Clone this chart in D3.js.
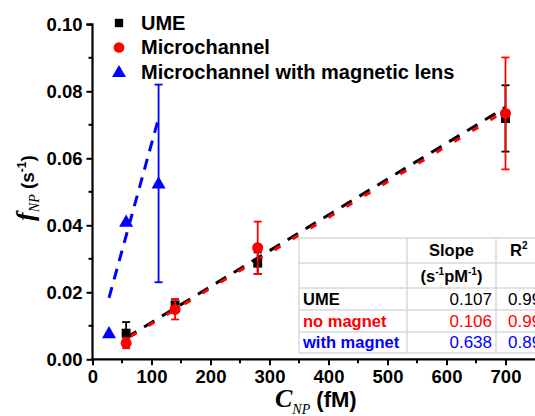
<!DOCTYPE html>
<html><head><meta charset="utf-8">
<script src="https://cdn.jsdelivr.net/npm/d3@7"></script>
<style>body{margin:0;overflow:hidden;background:#fff}svg{display:block}</style>
</head><body>
<svg id="c" width="535" height="416"></svg>
<script>
// ---- data ----
const umeX = [57, 140, 280, 700];
const umeY = [0.0078, 0.0162, 0.0287, 0.0719];
const umeErr = [0.0033, 0.0017, 0.0032, 0.0099];
const micX = [57, 140, 280, 700];
const micY = [0.0048, 0.0149, 0.0333, 0.0734];
const micErr = [0.0015, 0.0030, 0.0078, 0.0167];
const magX = [28, 57, 112];
const magY = [0.0078, 0.0411, 0.0525];
const magErr = [0, 0, 0.0295];
const fitSlopes = [0.107, 0.106, 0.638];      // s^-1 pM^-1
const fitIntercepts = [0.0003, 0.0000, 0.0005];
const fitRanges = [[57, 700], [57, 700], [28, 112]];
const legendLabels = ["UME", "Microchannel", "Microchannel with magnetic lens"];
const xTicks = [0, 100, 200, 300, 400, 500, 600, 700];
const yTicks = [0.00, 0.02, 0.04, 0.06, 0.08, 0.10];
const tableRows = ["UME", "no magnet", "with magnet"];
const tableSlope = ["0.107", "0.106", "0.638"];
const tableR2 = ["0.998", "0.995", "0.893"];
const colors = ["#000000", "#ff0000", "#0000ff"];

const svg = d3.select("#c");
const x = d3.scaleLinear().domain([0, 750]).range([92.5, 535]);
const y = d3.scaleLinear().domain([0, 0.10]).range([359.3, 24.3]);
const sans = "'Liberation Sans', Arial, sans-serif";
const serif = "'Liberation Serif', 'Times New Roman', serif";

// ---- axes ----
const yAxis = d3.axisLeft(y).tickValues(yTicks).tickFormat(d3.format(".2f")).tickSize(6).tickPadding(4);
const gy = svg.append("g").attr("transform", `translate(${x(0)},0)`).call(yAxis);
const xAxis = d3.axisBottom(x).tickValues(xTicks).tickFormat(d3.format("d")).tickSize(6).tickPadding(5);
const gx = svg.append("g").attr("transform", `translate(0,${y(0)})`).call(xAxis);
[gx, gy].forEach(g => {
  g.select(".domain").attr("stroke", "#000").attr("stroke-width", 2.2);
  g.selectAll(".tick line").attr("stroke", "#000").attr("stroke-width", 2);
  g.selectAll(".tick text").attr("fill", "#000").style("font-family", sans)
    .style("font-weight", "bold").style("font-size", "18.5px");
});
gy.select(".domain").attr("d", `M-0,${y(0)}V${y(0.1)}H-6`).attr("fill", "none");
gx.select(".domain").attr("d", `M${x(0)},0H${x(750)}`).attr("fill", "none");
// minor ticks
const yMinor = d3.range(0.01, 0.1, 0.02);
svg.append("g").selectAll("line").data(yMinor).join("line")
  .attr("x1", x(0) - 4).attr("x2", x(0)).attr("y1", d => y(d)).attr("y2", d => y(d))
  .attr("stroke", "#000").attr("stroke-width", 2);
const xMinor = d3.range(50, 750, 100);
svg.append("g").selectAll("line").data(xMinor).join("line")
  .attr("x1", d => x(d)).attr("x2", d => x(d)).attr("y1", y(0)).attr("y2", y(0) + 4)
  .attr("stroke", "#000").attr("stroke-width", 2);

// ---- axis titles ----
const yt = svg.append("text").attr("transform", "translate(34,188) rotate(-90)").attr("text-anchor", "middle");
yt.append("tspan").text("f").style("font-family", serif).style("font-style", "italic").style("font-weight", "bold").style("font-size", "26px");
yt.append("tspan").text("NP").attr("dy", 5).style("font-family", serif).style("font-style", "italic").style("font-size", "14px");
yt.append("tspan").text(" (s").attr("dy", -5).style("font-family", sans).style("font-weight", "bold").style("font-size", "19px");
yt.append("tspan").text("-1").attr("dy", -8).style("font-family", sans).style("font-weight", "bold").style("font-size", "12px");
yt.append("tspan").text(")").attr("dy", 8).style("font-family", sans).style("font-weight", "bold").style("font-size", "19px");

const xt = svg.append("text").attr("x", 275).attr("y", 407);
xt.append("tspan").text("C").style("font-family", serif).style("font-style", "italic").style("font-weight", "bold").style("font-size", "26px");
xt.append("tspan").text("NP").attr("dy", 7).style("font-family", serif).style("font-style", "italic").style("font-size", "14px");
xt.append("tspan").text(" (fM)").attr("dy", -7).style("font-family", sans).style("font-weight", "bold").style("font-size", "22px");

// ---- fit lines ----
const lineGen = d3.line().x(d => x(d[0])).y(d => y(d[1]));
const fitPts = i => fitRanges[i].map(v => [v, fitSlopes[i] * 1e-3 * v + fitIntercepts[i]]);
svg.append("path").attr("d", lineGen(fitPts(0))).attr("stroke", colors[0]).attr("stroke-width", 3)
  .attr("fill", "none").attr("stroke-dasharray", "12,9");
svg.append("path").attr("d", lineGen(fitPts(1))).attr("stroke", colors[1]).attr("stroke-width", 3)
  .attr("fill", "none").attr("stroke-dasharray", "7,14").attr("stroke-dashoffset", -5);
svg.append("path").attr("d", lineGen(fitPts(2))).attr("stroke", colors[2]).attr("stroke-width", 3)
  .attr("fill", "none").attr("stroke-dasharray", "11,8");

// ---- series ----
function series(xs, ys, errs, color, shape) {
  const g = svg.append("g");
  const data = xs.map((v, i) => ({ x: v, y: ys[i], e: errs[i] }));
  const eb = g.selectAll("g.eb").data(data.filter(d => d.e > 0)).join("g");
  eb.append("line").attr("x1", d => x(d.x)).attr("x2", d => x(d.x)).attr("y1", d => y(d.y - d.e)).attr("y2", d => y(d.y + d.e))
    .attr("stroke", color).attr("stroke-width", 1.8);
  [-1, 1].forEach(s => eb.append("line").attr("x1", d => x(d.x) - 4).attr("x2", d => x(d.x) + 4)
    .attr("y1", d => y(d.y + s * d.e)).attr("y2", d => y(d.y + s * d.e)).attr("stroke", color).attr("stroke-width", 1.8));
  g.selectAll("path.m").data(data).join("path")
    .attr("d", d3.symbol().type(shape).size(shape === d3.symbolTriangle ? 85 : shape === d3.symbolCircle ? 95 : 80)())
    .attr("transform", d => `translate(${x(d.x)},${y(d.y) + (shape === d3.symbolTriangle ? 1 : 0)})`)
    .attr("fill", color);
}
series(umeX, umeY, umeErr, colors[0], d3.symbolSquare);
series(micX, micY, micErr, colors[1], d3.symbolCircle);
series(magX, magY, magErr, colors[2], d3.symbolTriangle);

// ---- legend ----
const shapes = [d3.symbolSquare, d3.symbolCircle, d3.symbolTriangle];
const sizes = [70, 90, 85];
legendLabels.forEach((lab, i) => {
  const cy = 23 + i * 24.5;
  svg.append("path").attr("d", d3.symbol().type(shapes[i]).size(sizes[i])())
    .attr("transform", `translate(119,${cy + (i === 2 ? 1 : 0)})`).attr("fill", colors[i]);
  svg.append("text").attr("x", 141).attr("y", cy + 6.5).text(lab)
    .style("font-family", sans).style("font-weight", "bold").style("font-size", "20px").attr("fill", "#000");
});

// ---- table ----
const colX = [299, 407, 496, 600];
const rowY = [238, 263, 288, 310, 332, 353];
const tg = svg.append("g");
tg.append("rect").attr("x", colX[0]).attr("y", rowY[0]).attr("width", colX[3] - colX[0]).attr("height", rowY[5] - rowY[0]).attr("fill", "#fff");
rowY.forEach(v => tg.append("line").attr("x1", colX[0]).attr("x2", colX[3]).attr("y1", v).attr("y2", v).attr("stroke", "#d9d9d9").attr("stroke-width", 1.5));
colX.forEach(v => tg.append("line").attr("x1", v).attr("x2", v).attr("y1", rowY[0]).attr("y2", rowY[5]).attr("stroke", "#d9d9d9").attr("stroke-width", 1.5));
tg.append("text").attr("x", (colX[1] + colX[2]) / 2).attr("y", 256).attr("text-anchor", "middle").text("Slope")
  .style("font-family", sans).style("font-weight", "bold").style("font-size", "16.5px");
const r2h = tg.append("text").attr("x", 510).attr("y", 256).style("font-family", sans).style("font-weight", "bold").style("font-size", "16.5px");
r2h.append("tspan").text("R");
r2h.append("tspan").text("2").attr("dy", -7).style("font-size", "10px");
const uh = tg.append("text").attr("x", (colX[1] + colX[2]) / 2).attr("y", 282).attr("text-anchor", "middle").style("font-family", sans).style("font-weight", "bold").style("font-size", "16.5px");
uh.append("tspan").text("(s");
uh.append("tspan").text("-1").attr("dy", -7).style("font-size", "10px");
uh.append("tspan").text("pM").attr("dy", 7);
uh.append("tspan").text("-1").attr("dy", -7).style("font-size", "10px");
uh.append("tspan").text(")").attr("dy", 7);
tableRows.forEach((r, i) => {
  const by = [305, 327, 348][i];
  tg.append("text").attr("x", 303).attr("y", by).text(r).attr("fill", colors[i])
    .style("font-family", sans).style("font-weight", "bold").style("font-size", "16.5px");
  tg.append("text").attr("x", 492).attr("y", by).attr("text-anchor", "end").text(tableSlope[i]).attr("fill", colors[i])
    .style("font-family", sans).style("font-size", "17px");
  tg.append("text").attr("x", 508).attr("y", by).text(tableR2[i]).attr("fill", colors[i])
    .style("font-family", sans).style("font-size", "17px");
});
</script>
</body></html>
